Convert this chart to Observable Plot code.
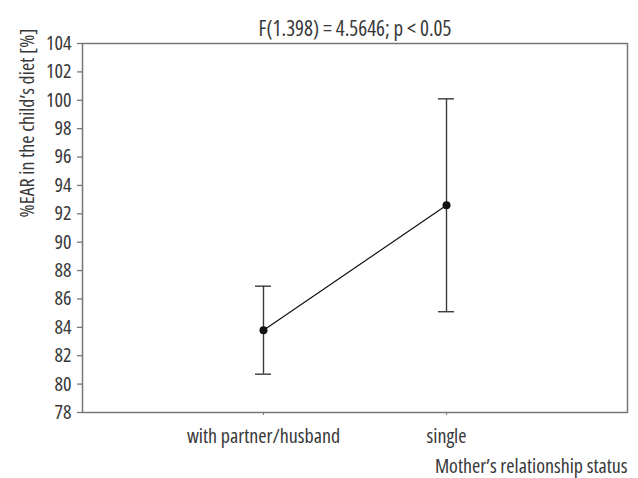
<!DOCTYPE html>
<html><head><meta charset="utf-8">
<script src="https://cdn.jsdelivr.net/npm/d3@7"></script>
<script src="https://cdn.jsdelivr.net/npm/@observablehq/plot@0.6"></script>
<style>html,body{margin:0;padding:0;background:#fff} svg{display:block; font-stretch: 78%;}</style>
</head><body><div id="chart"></div>
<script>
const categories = ["with partner/husband", "single"];
const means = [83.8, 92.6];
const lower = [80.7, 85.1];
const upper = [86.9, 100.1];
const yTicks = [78, 80, 82, 84, 86, 88, 90, 92, 94, 96, 98, 100, 102, 104];
const title = "F(1.398) = 4.5646; p < 0.05";
const yLabel = "%EAR in the child\u2019s diet [%]";
const xLabel = "Mother\u2019s relationship status";

const data = categories.map((c, i) => ({status: c, mean: means[i], lo: lower[i], hi: upper[i]}));

const font = '"Open Sans", Roboto, sans-serif';
const textColor = "#383838";
const plot = Plot.plot({
  width: 638, height: 478,
  marginLeft: 82, marginRight: 11, marginTop: 43, marginBottom: 66,
  style: {fontFamily: font, fontSize: "20px", color: textColor, background: "#fff", overflow: "visible"},
  x: {type: "band", domain: categories, paddingInner: 0.9126, paddingOuter: 0.945, label: null},
  y: {domain: [78, 104], label: null},
  marks: [
    Plot.frame({stroke: "#777", strokeWidth: 1.5}),
    Plot.axisY({ticks: yTicks, tickSize: 5, tickPadding: 6, stroke: "#777", strokeWidth: 1.3, label: null, fill: textColor}),
    Plot.axisX({tickSize: 3, tickPadding: 13, stroke: "#777", label: null, fill: textColor}),
    Plot.ruleX(data, {x: "status", y1: "lo", y2: "hi", stroke: "#3a3a3a", strokeWidth: 1.4}),
    Plot.tickY(data, {x: "status", y: "lo", stroke: "#3a3a3a", strokeWidth: 1.4}),
    Plot.tickY(data, {x: "status", y: "hi", stroke: "#3a3a3a", strokeWidth: 1.4}),
    Plot.line(data, {x: "status", y: "mean", stroke: "#111", strokeWidth: 1.2}),
    Plot.dot(data, {x: "status", y: "mean", r: 4, fill: "#111", stroke: null}),
    Plot.text([title], {frameAnchor: "top", lineAnchor: "middle", dy: -14.5, fill: textColor, fontSize: 21}),
    Plot.text([yLabel], {frameAnchor: "top-left", lineAnchor: "middle", rotate: -90, textAnchor: "end", dx: -54.5, dy: -15, fill: textColor, fontSize: 20}),
    Plot.text([xLabel], {frameAnchor: "bottom-right", lineAnchor: "middle", textAnchor: "end", dy: 54, fill: textColor, fontSize: 20})
  ]
});
document.getElementById("chart").append(plot);
</script>
</body></html>
